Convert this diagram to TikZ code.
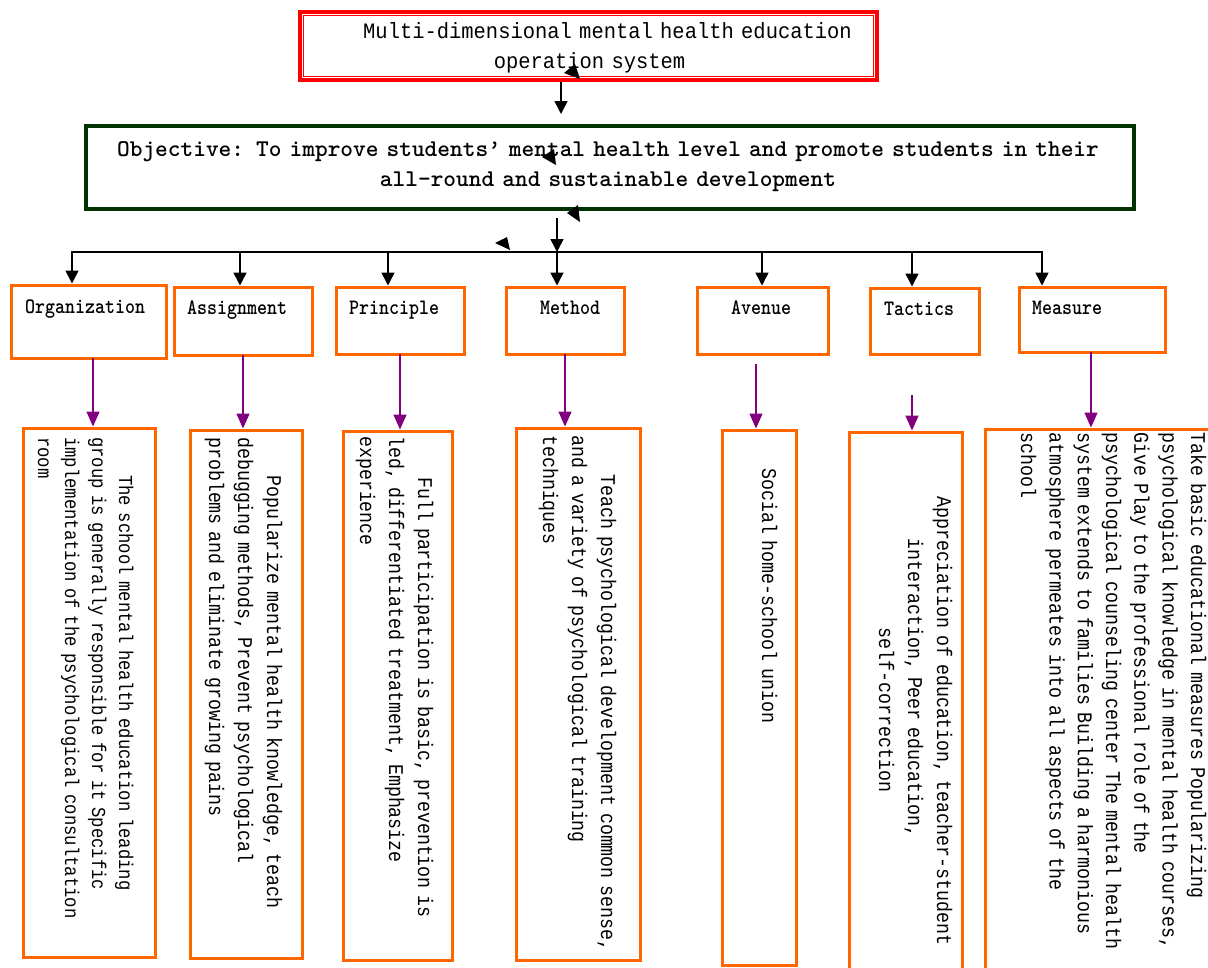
\documentclass[tikz,border=0pt]{standalone}
\usepackage{fontspec}
\usepackage{graphicx}
\usetikzlibrary{arrows.meta}
\newfontfamily\vfont{Liberation Mono}[FakeStretch=0.87]
\newfontfamily\tfont{Liberation Mono}[FakeStretch=0.93]
\definecolor{ttred}{RGB}{255,0,0}
\definecolor{objgreen}{RGB}{0,51,0}
\definecolor{boxorange}{RGB}{255,102,0}
\definecolor{arrpurple}{RGB}{128,0,128}
\newcommand\sqz[2]{\scalebox{#1}[1]{#2}}
\begin{document}
\begin{tikzpicture}[x=1pt,y=1pt,
  frame/.style={draw=boxorange, line width=3pt, inner sep=0pt},
  blk/.style={draw=black, line width=1.6pt, -{Triangle[length=13pt,width=13pt]}},
  pur/.style={draw=arrpurple, line width=1.5pt, -{Triangle[length=15pt,width=13pt]}},
  vtxt/.style={rotate=-90, inner sep=0pt, text width=620pt, align=left, anchor=base west},
  vfA/.style={font=\vfont\fontsize{21}{29}\selectfont},
  cat/.style={inner sep=0pt, anchor=base west, font=\ttfamily\bfseries\fontsize{22}{22}\selectfont},
]
\useasboundingbox[fill=white] (0,0) rectangle (1208,-967);

% ---- title ----
\node[draw=ttred, line width=4.5pt, inner sep=0pt, minimum width=577pt, minimum height=68pt] (titlebox) at (588.5,-46) {};
\draw[ttred, line width=1.2pt] ([shift={(6,-6)}]titlebox.north west) rectangle ([shift={(-6,6)}]titlebox.south east);
\node[inner sep=0pt, text width=600pt, align=center, anchor=base, font=\tfont\fontsize{22}{30}\selectfont] (ttitle) at (589.5,-38)
  {\hspace*{36pt}Multi-dimensional mental health education\\operation system};

% ---- objective ----
\node[draw=objgreen, line width=4pt, inner sep=0pt, minimum width=1048pt, minimum height=83pt] (objbox) at (610,-167.5) {};
\node[inner sep=0pt, text width=1040pt, align=center, anchor=base, font=\ttfamily\bfseries\fontsize{24}{30}\selectfont] (tobj) at (608,-156)
  {\sqz{1.008}{Objective: To improve students’ mental health level and promote students in their}\\
   \sqz{1.008}{all-round and sustainable development}};

% stray arrowheads
\fill (564,-73) -- (575,-64) -- (580,-79) -- cycle;
\fill (542,-157) -- (554,-149) -- (556,-165) -- cycle;
\fill (567,-213) -- (578,-205) -- (580,-222) -- cycle;
\fill (495,-243) -- (507,-237) -- (510,-250) -- cycle;

% ---- category boxes ----
\node[frame, minimum width=155pt, minimum height=73pt] (corg) at (88.5,-321.5) {};
\node[frame, minimum width=138pt, minimum height=68pt] (cass) at (243,-321) {};
\node[frame, minimum width=128pt, minimum height=67pt] (cpri) at (400,-320.5) {};
\node[frame, minimum width=118pt, minimum height=67pt] (cmet) at (565,-320.5) {};
\node[frame, minimum width=131pt, minimum height=67pt] (cave) at (762.5,-320.5) {};
\node[frame, minimum width=109pt, minimum height=66pt] (ctac) at (924.5,-321) {};
\node[frame, minimum width=146pt, minimum height=65pt] (cmea) at (1092,-319.5) {};

\node[cat] (lorg) at (25,-313) {\sqz{0.866}{Organization}};
\node[cat] (lass) at (187,-314) {\sqz{0.866}{Assignment}};
\node[cat] (lpri) at (349,-314) {\sqz{0.866}{Principle}};
\node[cat] (lmet) at (540,-314) {\sqz{0.866}{Method}};
\node[cat] (lave) at (731,-314) {\sqz{0.866}{Avenue}};
\node[cat] (ltac) at (884,-315) {\sqz{0.866}{Tactics}};
\node[cat] (lmea) at (1032,-314) {\sqz{0.866}{Measure}};

% ---- connectors top ----
\coordinate (t2) at (561,-114);
\draw[blk] (titlebox.south -| t2) -- (t2);
\coordinate (o1) at (557,-218);
\coordinate (hL) at (72,-252);
\coordinate (hR) at (1042,-252);
\draw[black, line width=1.6pt, line cap=rect] (hL) -- (hR);
\draw[blk] (o1) -- (o1 |- hL);
\coordinate (b1) at (72,-252);
\coordinate (b2) at (240,-252);
\coordinate (b3) at (388,-252);
\coordinate (b4) at (557,-252);
\coordinate (b5) at (762,-252);
\coordinate (b6) at (912,-252);
\coordinate (b7) at (1042,-252);
\draw[blk] (b1) -- (b1 |- corg.north);
\draw[blk] (b2) -- (b2 |- cass.north);
\draw[blk] (b3) -- (b3 |- cpri.north);
\draw[blk] (b4) -- (b4 |- cmet.north);
\draw[blk] (b5) -- (b5 |- cave.north);
\draw[blk] (b6) -- (b6 |- ctac.north);
\draw[blk] (b7) -- (b7 |- cmea.north);

% ---- vertical boxes ----
\node[frame, minimum width=132pt, minimum height=529pt] (vorg) at (89,-692.5) {};
\node[frame, minimum width=112pt, minimum height=528pt] (vass) at (246,-694) {};
\node[frame, minimum width=109pt, minimum height=529pt] (vpri) at (397.5,-695.5) {};
\node[frame, minimum width=124pt, minimum height=532pt] (vmet) at (578,-694) {};
\node[frame, minimum width=74pt, minimum height=535pt] (vave) at (759,-697.5) {};
\draw[boxorange, line width=3pt] (849,-980) -- (849,-432) -- (962,-432) -- (962,-980);
\coordinate (vtac) at (905.5,-430.5);
\draw[boxorange, line width=3pt] (985,-980) -- (985,-429) -- (1220,-429);
\coordinate (vmea) at (1096,-427.5);

% ---- purple connectors ----
\coordinate (p1) at (93,-358);
\coordinate (p2) at (243,-355);
\coordinate (p3) at (400,-354);
\coordinate (p4) at (565,-354);
\coordinate (p5) at (756,-364);
\coordinate (p6) at (912,-395);
\coordinate (p7) at (1091,-352);
\draw[pur] (p1) -- (p1 |- vorg.north);
\draw[pur] (p2) -- (p2 |- vass.north);
\draw[pur] (p3) -- (p3 |- vpri.north);
\draw[pur] (p4) -- (p4 |- vmet.north);
\draw[pur] (p5) -- (p5 |- vave.north);
\draw[pur] (p6) -- (p6 |- vtac);
\draw[pur] (p7) -- (p7 |- vmea);

% ---- vertical texts ----
\node[vtxt, font=\vfont\fontsize{19.8}{27}\selectfont] (torg) at (119,-437)
  {\hspace*{38pt}The school mental health education leading\\group is generally responsible for it Specific\\implementation of the psychological consultation\\room};
\node[vtxt, vfA] (tass) at (267,-437)
  {\hspace*{38pt}Popularize mental health knowledge, teach\\debugging methods, Prevent psychological\\problems and eliminate growing pains};
\node[vtxt, vfA] (tpri) at (418,-436)
  {\hspace*{41pt}Full participation is basic, prevention is\\led, differentiated treatment, Emphasize\\experience};
\node[vtxt, vfA] (tmet) at (601,-435)
  {\hspace*{39pt}Teach psychological development common sense,\\and a variety of psychological training\\techniques};
\node[vtxt, vfA] (tave) at (762,-468) {Social home-school union};
\node[rotate=-90, inner sep=0pt, text width=470pt, align=center, anchor=base, vfA] (ttac) at (937,-721)
  {Appreciation of education, teacher-student\\interaction, Peer education,\hspace*{66pt}\mbox{}\\self-correction\hspace*{22pt}\mbox{}};
\node[vtxt, font=\vfont\fontsize{21}{28.3}\selectfont] (tmea) at (1191,-432)
  {Take basic educational measures Popularizing\\psychological knowledge in mental health courses,\\Give Play to the professional role of the\\psychological counseling center The mental health\\system extends to families Building a harmonious\\atmosphere permeates into all aspects of the\\school};
\end{tikzpicture}
\end{document}
